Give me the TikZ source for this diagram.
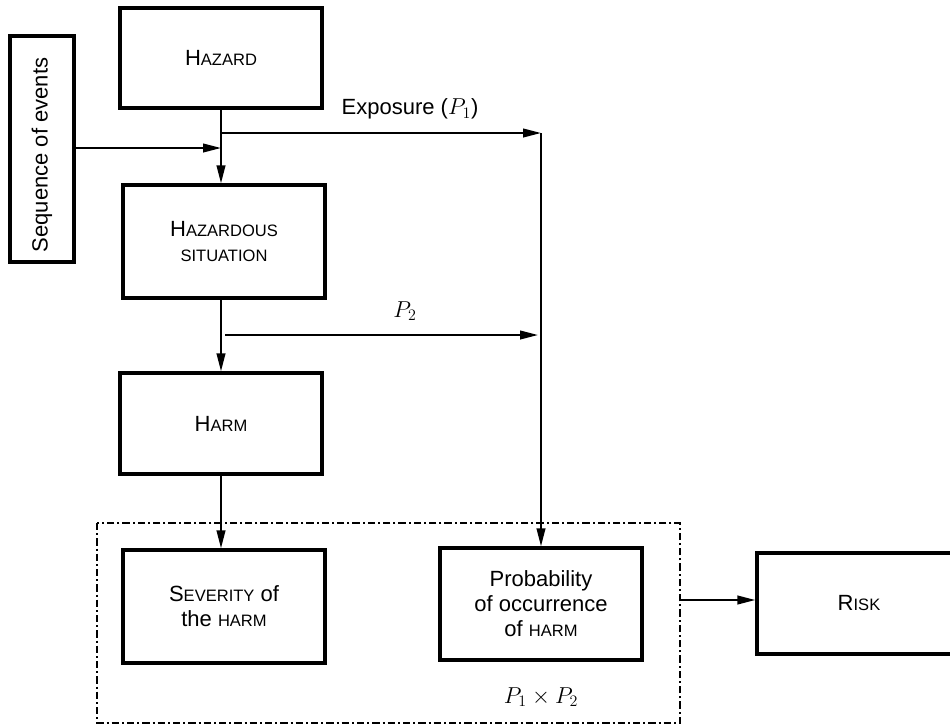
\documentclass[tikz,border=0pt]{standalone}
\usepackage{fontspec}
\setmainfont{Liberation Sans}
\usetikzlibrary{arrows.meta}

% small capitals imitated with reduced upper-case letters
\newcommand\smc[1]{{\fontsize{12.4pt}{14pt}\selectfont #1}}

\begin{document}
\begin{tikzpicture}[x=0.75pt,y=-0.75pt,
  box/.style={draw, line width=2.5pt, inner sep=0pt, align=center,
    font=\fontsize{16.5pt}{18.75pt}\selectfont},
  conn/.style={line width=1.5pt, -{Triangle[length=13.5pt,width=6.5pt]}},
  lbl/.style={font=\fontsize{16.5pt}{19pt}\selectfont, inner sep=0pt},
  frame/.style={line width=2.2pt,
    dash pattern=on 5.5pt off 2.25pt on 1.5pt off 2.25pt}
]
\useasboundingbox (0,0) rectangle (950,726);
\clip (0,0) rectangle (950,726);

% boxes
\node[box, minimum width=64*0.75pt, minimum height=226*0.75pt] (seq) at (42,149) {};
\node[lbl, rotate=90] (seqtext) at (42,155) {Sequence of events};
\node[box, minimum width=202*0.75pt, minimum height=100*0.75pt] (haz) at (221,58)
  {H\smc{AZARD}};
\node[box, minimum width=202*0.75pt, minimum height=113*0.75pt] (sit) at (224,241.5)
  {H\smc{AZARDOUS}\\\smc{SITUATION}};
\node[box, minimum width=202*0.75pt, minimum height=101*0.75pt] (harm) at (221,423.5)
  {H\smc{ARM}};
\node[box, minimum width=202*0.75pt, minimum height=113*0.75pt] (sev) at (224,606.5)
  {S\smc{EVERITY} of\\the \smc{HARM}};
\node[box, minimum width=202*0.75pt, minimum height=112*0.75pt] (prob) at (541,604)
  {Probability\\of occurrence\\of \smc{HARM}};
\node[box, minimum width=204*0.75pt, minimum height=101*0.75pt] (risk) at (859,603.5)
  {R\smc{ISK}};

% dash-dotted frame around severity and probability
\draw[frame] (97,523) rectangle (680,723);
\coordinate (frameR) at (680,600);

% branch points
\coordinate (j1) at (221,133);
\coordinate (j1e) at (541,133);
\coordinate (j2) at (221,335);
\coordinate (j2e) at (538,335);

% vertical chain
\draw[conn] (haz.south -| j1) -- (sit.north -| j1);
\draw[conn] (sit.south -| j1) -- (harm.north -| j1);
\draw[conn] (harm.south -| j1) -- (sev.north -| j1);

% sequence of events into the chain
\draw[conn] (seq.east |- 0,148) -- (221,148);

% exposure branch
\draw[conn] (j1) -- (j1e);
\draw[conn] (j1e) -- (prob.north -| j1e);
\node[lbl] (expo) at (410,109) {Exposure ($P_1$)};

% P2 branch
\draw[conn] ([xshift=3]j2) -- (j2e);
\node[lbl] (p2) at (405,311) {$P_2$};

% product label
\node[lbl] (p12) at (541,697) {$P_1\times P_2$};

% to risk
\draw[conn] (frameR) -- (risk.west |- frameR);
\end{tikzpicture}
\end{document}
